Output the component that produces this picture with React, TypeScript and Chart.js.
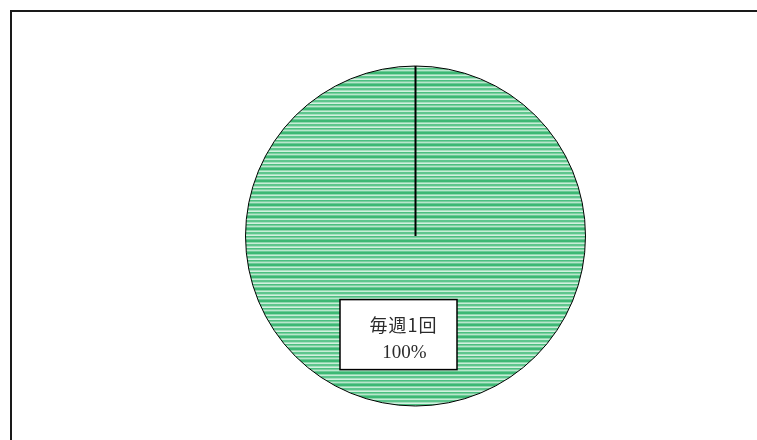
import React, { useEffect, useRef } from "react";
import { Chart, registerables } from "chart.js";

Chart.register(...registerables);

const categories: string[] = ["毎週1回"];
const values: number[] = [100];
const percentLabels: string[] = ["100%"];

function makePattern(): CanvasPattern | string {
  const c = document.createElement("canvas");
  c.width = 4;
  c.height = 12;
  const ctx = c.getContext("2d");
  if (!ctx) return "#6ccf98";
  const rows = [
    "#3db874", "#3db874", "#8fd8ae", "#c6edd6", "#5ec68d", "#5ec68d",
    "#a6dfbf", "#d2f1df", "#4cbf80", "#7ccfa0", "#b8e6cb", "#6ccb97",
  ];
  rows.forEach((col, i) => {
    ctx.fillStyle = col;
    ctx.fillRect(0, i, 4, 1);
  });
  return ctx.createPattern(c, "repeat") || "#6ccf98";
}

const framePlugin = {
  id: "frame",
  beforeDraw(chart: any) {
    const ctx = chart.ctx;
    ctx.save();
    ctx.fillStyle = "#ffffff";
    ctx.fillRect(0, 0, chart.width, chart.height);
    ctx.strokeStyle = "#1a1a1a";
    ctx.lineWidth = 2;
    ctx.beginPath();
    ctx.moveTo(11, chart.height);
    ctx.lineTo(11, 11);
    ctx.lineTo(chart.width, 11);
    ctx.stroke();
    ctx.restore();
  },
};

const labelPlugin = {
  id: "sliceLabel",
  afterDatasetsDraw(chart: any) {
    const ctx = chart.ctx;
    const meta = chart.getDatasetMeta(0);
    meta.data.forEach((arc: any, i: number) => {
      const { x, y, outerRadius } = arc.getProps(["x", "y", "outerRadius"], true);
      ctx.save();
      ctx.strokeStyle = "#000";
      ctx.lineWidth = 2;
      ctx.beginPath();
      ctx.moveTo(x, y);
      ctx.lineTo(x, y - outerRadius);
      ctx.stroke();
      ctx.restore();

      const cx = x - outerRadius * 0.1;
      const cy = y + outerRadius * 0.58;
      const w = 117;
      const h = 70;
      ctx.save();
      ctx.fillStyle = "#ffffff";
      ctx.fillRect(cx - w / 2, cy - h / 2, w, h);
      ctx.strokeStyle = "#000";
      ctx.lineWidth = 1.5;
      ctx.strokeRect(cx - w / 2, cy - h / 2, w, h);
      ctx.fillStyle = "#2b2b2b";
      ctx.textAlign = "center";
      ctx.textBaseline = "middle";
      ctx.font = '18px "Noto Sans CJK JP"';
      (ctx as any).letterSpacing = "1px";
      ctx.fillText(categories[i], cx + 5, cy - 9);
      (ctx as any).letterSpacing = "0px";
      ctx.font = '19px "Liberation Serif"';
      ctx.fillText(percentLabels[i], cx + 6, cy + 18);
      ctx.restore();
    });
  },
};

export default function App() {
  const ref = useRef<HTMLCanvasElement | null>(null);
  useEffect(() => {
    if (!ref.current) return;
    const chart = new Chart(ref.current, {
      type: "pie",
      data: {
        labels: categories,
        datasets: [
          {
            data: values,
            backgroundColor: [makePattern() as any],
            borderColor: "#000",
            borderWidth: 1,
          },
        ],
      },
      options: {
        responsive: false,
        animation: false,
        radius: 170,
        layout: { padding: { left: 245, right: 171, top: 66, bottom: 34 } },
        plugins: { legend: { display: false }, tooltip: { enabled: false } },
      } as any,
      plugins: [framePlugin, labelPlugin],
    });
    return () => chart.destroy();
  }, []);
  return (
    <div style={{ position: "fixed", left: 0, top: 0, width: 757, height: 440 }}>
      <canvas ref={ref} width={757} height={440} style={{ width: 757, height: 440 }} />
    </div>
  );
}
